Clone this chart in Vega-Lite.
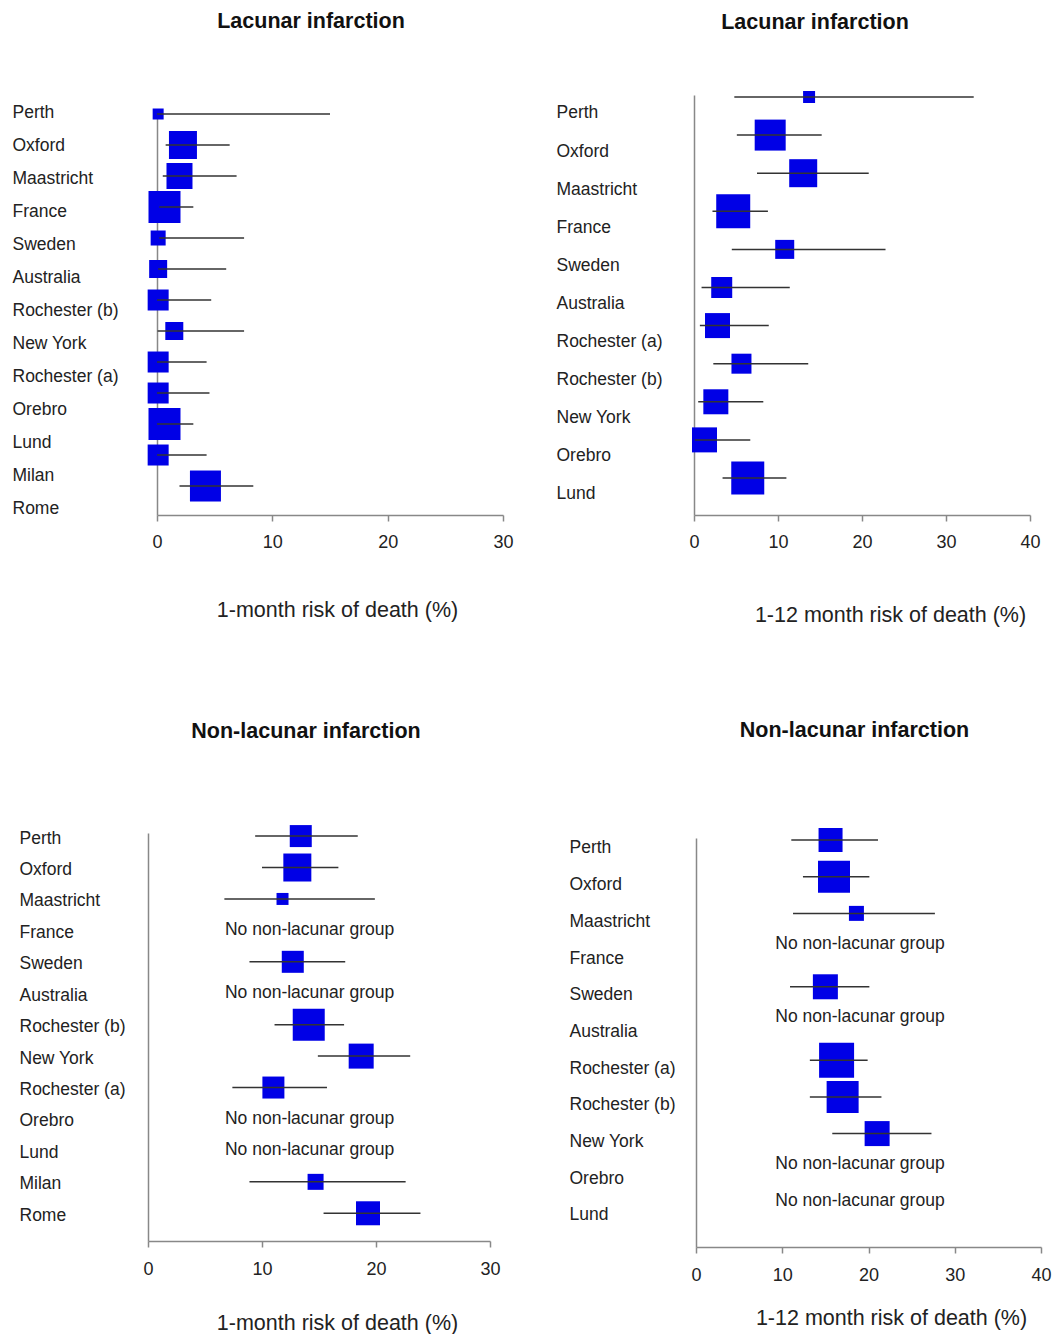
{
  "$schema": "https://vega.github.io/schema/vega-lite/v6.json",
  "padding": {"left": 12, "top": 10, "right": 2, "bottom": 2},
  "background": "white",
  "config": {
    "font": "Liberation Sans",
    "view": {"stroke": null},
    "axis": {"labelFont": "Liberation Sans", "titleFont": "Liberation Sans", "grid": false, "domainColor": "#888888", "tickColor": "#888888", "labelColor": "#222222", "titleColor": "#222222", "titleFontWeight": "normal", "domainWidth": 1.5, "tickWidth": 1.5},
    "title": {"font": "Liberation Sans", "fontSize": 21.5, "fontWeight": "bold", "color": "#111111"}
  },
  "datasets": {
    "tl": [
      {"study": "Perth", "est": 0.1, "lo": 0, "hi": 15.0, "w": 11},
      {"study": "Oxford", "est": 2.25, "lo": 0.75, "hi": 6.3, "w": 28},
      {"study": "Maastricht", "est": 1.95, "lo": 0.5, "hi": 6.9, "w": 26},
      {"study": "France", "est": 0.65, "lo": 0.2, "hi": 3.15, "w": 32},
      {"study": "Sweden", "est": 0.1, "lo": 0.2, "hi": 7.55, "w": 15},
      {"study": "Australia", "est": 0.1, "lo": 0.1, "hi": 6.0, "w": 18},
      {"study": "Rochester (b)", "est": 0.1, "lo": 0, "hi": 4.7, "w": 21},
      {"study": "New York", "est": 1.5, "lo": 0.05, "hi": 7.55, "w": 18},
      {"study": "Rochester (a)", "est": 0.1, "lo": 0, "hi": 4.3, "w": 21},
      {"study": "Orebro", "est": 0.1, "lo": 0, "hi": 4.55, "w": 21},
      {"study": "Lund", "est": 0.65, "lo": 0, "hi": 3.15, "w": 32},
      {"study": "Milan", "est": 0.1, "lo": 0, "hi": 4.3, "w": 21},
      {"study": "Rome", "est": 4.2, "lo": 1.95, "hi": 8.35, "w": 31}
    ],
    "tr": [
      {"study": "Perth", "est": 13.7, "lo": 4.8, "hi": 33.3, "w": 12},
      {"study": "Oxford", "est": 9.07, "lo": 5.1, "hi": 15.2, "w": 31},
      {"study": "Maastricht", "est": 13.0, "lo": 7.5, "hi": 20.8, "w": 28},
      {"study": "France", "est": 4.67, "lo": 2.2, "hi": 8.8, "w": 34},
      {"study": "Sweden", "est": 10.8, "lo": 4.5, "hi": 22.8, "w": 19},
      {"study": "Australia", "est": 3.3, "lo": 0.9, "hi": 11.4, "w": 21},
      {"study": "Rochester (a)", "est": 2.8, "lo": 0.7, "hi": 8.9, "w": 25},
      {"study": "Rochester (b)", "est": 5.65, "lo": 2.3, "hi": 13.6, "w": 20},
      {"study": "New York", "est": 2.6, "lo": 0.5, "hi": 8.25, "w": 25},
      {"study": "Orebro", "est": 1.25, "lo": 0.1, "hi": 6.7, "w": 25},
      {"study": "Lund", "est": 6.4, "lo": 3.4, "hi": 11.0, "w": 33}
    ],
    "bl": [
      {"study": "Perth", "est": 13.4, "lo": 9.4, "hi": 18.4, "w": 22},
      {"study": "Oxford", "est": 13.1, "lo": 10.0, "hi": 16.7, "w": 28},
      {"study": "Maastricht", "est": 11.8, "lo": 6.7, "hi": 19.9, "w": 12},
      {"study": "France", "note": "No non-lacunar group"},
      {"study": "Sweden", "est": 12.7, "lo": 8.9, "hi": 17.3, "w": 22},
      {"study": "Australia", "note": "No non-lacunar group"},
      {"study": "Rochester (b)", "est": 14.1, "lo": 11.1, "hi": 17.2, "w": 32},
      {"study": "New York", "est": 18.7, "lo": 14.9, "hi": 23.0, "w": 25},
      {"study": "Rochester (a)", "est": 11.0, "lo": 7.4, "hi": 15.7, "w": 22},
      {"study": "Orebro", "note": "No non-lacunar group"},
      {"study": "Lund", "note": "No non-lacunar group"},
      {"study": "Milan", "est": 14.7, "lo": 8.9, "hi": 22.6, "w": 16},
      {"study": "Rome", "est": 19.3, "lo": 15.4, "hi": 23.9, "w": 24}
    ],
    "br": [
      {"study": "Perth", "est": 15.6, "lo": 11.05, "hi": 21.1, "w": 24},
      {"study": "Oxford", "est": 16.0, "lo": 12.4, "hi": 20.1, "w": 32},
      {"study": "Maastricht", "est": 18.6, "lo": 11.25, "hi": 27.7, "w": 15},
      {"study": "France", "note": "No non-lacunar group"},
      {"study": "Sweden", "est": 15.0, "lo": 10.9, "hi": 20.1, "w": 25},
      {"study": "Australia", "note": "No non-lacunar group"},
      {"study": "Rochester (a)", "est": 16.3, "lo": 13.2, "hi": 19.9, "w": 35},
      {"study": "Rochester (b)", "est": 17.0, "lo": 13.2, "hi": 21.5, "w": 32},
      {"study": "New York", "est": 21.0, "lo": 15.8, "hi": 27.3, "w": 25},
      {"study": "Orebro", "note": "No non-lacunar group"},
      {"study": "Lund", "note": "No non-lacunar group"}
    ]
  },
  "columns": 2,
  "align": "none",
  "spacing": {"row": 94, "column": 42},
  "concat": [
    {
      "width": 355, "height": 420,
      "data": {"name": "tl"},
      "title": {"text": "Lacunar infarction", "dx": -14.5, "offset": 63},
      "resolve": {"scale": {"y": "independent"}},
      "layer": [
        {
          "mark": {"type": "point", "opacity": 0},
          "encoding": {
            "y": {"field": "study", "type": "nominal",
              "scale": {"type": "point", "domain": ["Perth", "Oxford", "Maastricht", "France", "Sweden", "Australia", "Rochester (b)", "New York", "Rochester (a)", "Orebro", "Lund", "Milan", "Rome"], "range": [16, 420], "padding": 0.106, "align": 0},
              "axis": {"title": null, "offset": -9, "ticks": false, "tickSize": 0, "labelAlign": "left", "labelBaseline": "middle", "labelPadding": 145, "labelOffset": 1, "labelFontSize": 17.5}}
          }
        },
        {
          "transform": [{"filter": "isValid(datum.est)"}],
          "mark": {"type": "square", "filled": true, "color": "#0000e6", "opacity": 1},
          "encoding": {
            "x": {"field": "est", "type": "quantitative", "scale": {"domain": [0, 30], "nice": false, "range": [9, 355]},
              "axis": {"values": [0, 10, 20, 30], "title": "1-month risk of death (%)", "tickSize": 6, "labelPadding": 12, "labelFontSize": 18, "titleFontSize": 21.5, "titlePadding": 48, "titleX": 189, "labelFlush": false}},
            "y": {"field": "study", "type": "nominal",
              "scale": {"type": "point", "domain": ["Perth", "Oxford", "Maastricht", "France", "Sweden", "Australia", "Rochester (b)", "New York", "Rochester (a)", "Orebro", "Lund", "Milan", "Rome"], "padding": 0.774, "align": 0.396},
              "axis": null},
            "size": {"field": "w", "type": "quantitative", "scale": {"type": "pow", "exponent": 2, "domain": [0, 40], "range": [0, 1600]}, "legend": null}
          }
        },
        {
          "transform": [{"filter": "isValid(datum.est)"}],
          "mark": {"type": "rule", "color": "#333333", "strokeWidth": 1.5},
          "encoding": {
            "x": {"field": "lo", "type": "quantitative", "scale": {"domain": [0, 30], "nice": false, "range": [9, 355]}},
            "x2": {"field": "hi"},
            "y": {"field": "study", "type": "nominal",
              "scale": {"type": "point", "domain": ["Perth", "Oxford", "Maastricht", "France", "Sweden", "Australia", "Rochester (b)", "New York", "Rochester (a)", "Orebro", "Lund", "Milan", "Rome"], "padding": 0.774, "align": 0.396},
              "axis": null}
          }
        }
      ]
    },
    {
      "width": 336, "height": 420,
      "data": {"name": "tr"},
      "title": {"text": "Lacunar infarction", "dx": -47, "offset": 57},
      "encoding": {
        "y": {"field": "study", "type": "nominal",
          "scale": {"type": "point", "domain": ["Perth", "Oxford", "Maastricht", "France", "Sweden", "Australia", "Rochester (a)", "Rochester (b)", "New York", "Orebro", "Lund"], "padding": 0.512, "align": 0.41},
          "axis": {"title": null, "ticks": false, "tickSize": 0, "labelAlign": "left", "labelBaseline": "middle", "labelPadding": 138, "labelOffset": 2, "minExtent": 138, "maxExtent": 138, "labelFontSize": 17.5}}
      },
      "layer": [
        {
          "mark": {"type": "square", "filled": true, "color": "#0000e6", "opacity": 1, "yOffset": -14},
          "encoding": {
            "x": {"field": "est", "type": "quantitative", "scale": {"domain": [0, 40], "nice": false},
              "axis": {"values": [0, 10, 20, 30, 40], "title": "1-12 month risk of death (%)", "tickSize": 6, "labelPadding": 12, "labelFontSize": 18, "titleFontSize": 21.5, "titlePadding": 53, "titleX": 196, "labelFlush": false}},
            "size": {"field": "w", "type": "quantitative", "scale": {"type": "pow", "exponent": 2, "domain": [0, 40], "range": [0, 1600]}, "legend": null}
          }
        },
        {
          "mark": {"type": "rule", "color": "#333333", "strokeWidth": 1.5, "yOffset": -14},
          "encoding": {
            "x": {"field": "lo", "type": "quantitative", "scale": {"domain": [0, 40], "nice": false}},
            "x2": {"field": "hi"}
          }
        }
      ]
    },
    {
      "width": 342, "height": 408,
      "data": {"name": "bl"},
      "title": {"text": "Non-lacunar infarction", "dx": -13, "offset": 83},
      "encoding": {
        "y": {"field": "study", "type": "nominal",
          "scale": {"type": "point", "domain": ["Perth", "Oxford", "Maastricht", "France", "Sweden", "Australia", "Rochester (b)", "New York", "Rochester (a)", "Orebro", "Lund", "Milan", "Rome"], "padding": 0.49, "align": 0.1},
          "axis": {"title": null, "ticks": false, "tickSize": 0, "labelAlign": "left", "labelBaseline": "middle", "labelPadding": 129, "labelOffset": 2, "labelFontSize": 17.5}}
      },
      "layer": [
        {
          "transform": [{"filter": "isValid(datum.est)"}],
          "mark": {"type": "square", "filled": true, "color": "#0000e6", "opacity": 1},
          "encoding": {
            "x": {"field": "est", "type": "quantitative", "scale": {"domain": [0, 30], "nice": false},
              "axis": {"values": [0, 10, 20, 30], "title": "1-month risk of death (%)", "tickSize": 6, "labelPadding": 13, "labelFontSize": 18, "titleFontSize": 21.5, "titlePadding": 34, "titleX": 189, "labelFlush": false}},
            "size": {"field": "w", "type": "quantitative", "scale": {"type": "pow", "exponent": 2, "domain": [0, 40], "range": [0, 1600]}, "legend": null}
          }
        },
        {
          "transform": [{"filter": "isValid(datum.est)"}],
          "mark": {"type": "rule", "color": "#333333", "strokeWidth": 1.5},
          "encoding": {
            "x": {"field": "lo", "type": "quantitative", "scale": {"domain": [0, 30], "nice": false}},
            "x2": {"field": "hi"}
          }
        },
        {
          "transform": [{"filter": "datum.note != null"}],
          "mark": {"type": "text", "align": "left", "baseline": "middle", "fontSize": 17.5, "color": "#222222"},
          "encoding": {
            "x": {"datum": 6.75},
            "text": {"field": "note"}
          }
        }
      ]
    },
    {
      "width": 345, "height": 409,
      "data": {"name": "br"},
      "title": {"text": "Non-lacunar infarction", "dx": -14, "offset": 86},
      "encoding": {
        "y": {"field": "study", "type": "nominal",
          "scale": {"type": "point", "domain": ["Perth", "Oxford", "Maastricht", "France", "Sweden", "Australia", "Rochester (a)", "Rochester (b)", "New York", "Orebro", "Lund"], "padding": 0.572, "align": 0.19},
          "axis": {"title": null, "ticks": false, "tickSize": 0, "labelAlign": "left", "labelBaseline": "middle", "labelPadding": 127, "labelOffset": 2, "minExtent": 140, "maxExtent": 140, "labelFontSize": 17.5}}
      },
      "layer": [
        {
          "transform": [{"filter": "isValid(datum.est)"}],
          "mark": {"type": "square", "filled": true, "color": "#0000e6", "opacity": 1, "yOffset": -6},
          "encoding": {
            "x": {"field": "est", "type": "quantitative", "scale": {"domain": [0, 40], "nice": false},
              "axis": {"values": [0, 10, 20, 30, 40], "title": "1-12 month risk of death (%)", "tickSize": 6, "labelPadding": 13, "labelFontSize": 18, "titleFontSize": 21.5, "titlePadding": 23, "titleX": 195, "labelFlush": false}},
            "size": {"field": "w", "type": "quantitative", "scale": {"type": "pow", "exponent": 2, "domain": [0, 40], "range": [0, 1600]}, "legend": null}
          }
        },
        {
          "transform": [{"filter": "isValid(datum.est)"}],
          "mark": {"type": "rule", "color": "#333333", "strokeWidth": 1.5, "yOffset": -6},
          "encoding": {
            "x": {"field": "lo", "type": "quantitative", "scale": {"domain": [0, 40], "nice": false}},
            "x2": {"field": "hi"}
          }
        },
        {
          "transform": [{"filter": "datum.note != null"}],
          "mark": {"type": "text", "align": "left", "baseline": "middle", "fontSize": 17.5, "color": "#222222", "yOffset": -12},
          "encoding": {
            "x": {"datum": 9.2},
            "text": {"field": "note"}
          }
        }
      ]
    }
  ]
}
